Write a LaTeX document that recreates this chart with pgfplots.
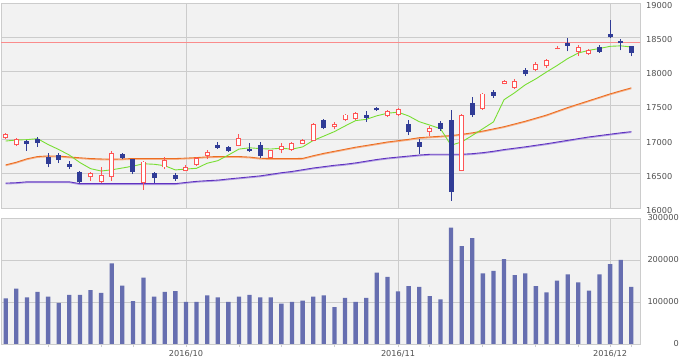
\documentclass[border=0pt]{standalone}
\usepackage{pgfplots}
\pgfplotsset{compat=1.18}
\usepackage{pgfplotstable}
\usepackage{fontspec}
\setmainfont{DejaVu Sans}
\definecolor{bgc}{RGB}{242,242,242}
\definecolor{gridc}{RGB}{204,204,204}
\definecolor{labc}{RGB}{80,80,80}
\definecolor{cred}{RGB}{255,85,85}
\definecolor{cblue}{RGB}{48,60,150}
\definecolor{volc}{RGB}{102,110,176}
\definecolor{ma5}{RGB}{120,222,50}
\definecolor{ma25}{RGB}{236,110,34}
\definecolor{ma25l}{RGB}{246,176,136}
\definecolor{ma75}{RGB}{96,50,192}
\definecolor{ma75l}{RGB}{176,158,226}
\definecolor{refl}{RGB}{250,140,140}

\pgfplotstableread{
x o h l c
1 17020 17100 17010 17078
2 16917 17030 16905 17015
9 16447 16529 16398 16510
10 16374 16593 16360 16485
11 16456 16835 16398 16801
14 16360 16689 16266 16680
16 16593 16747 16568 16699
18 16543 16630 16540 16593
19 16631 16750 16620 16738
20 16762 16850 16714 16820
23 16907 17080 16900 17029
26 16728 16855 16725 16850
27 16845 16957 16801 16907
28 16850 16970 16840 16957
29 16942 17005 16935 16995
30 16980 17240 16975 17233
32 17180 17260 17150 17235
33 17285 17380 17270 17368
34 17306 17400 17290 17391
37 17345 17440 17330 17425
38 17360 17467 17344 17442
41 17115 17199 17053 17177
44 16543 17370 16540 17354
46 17452 17690 17440 17675
48 17816 17880 17810 17864
49 17758 17890 17745 17864
51 18024 18130 18000 18107
52 18072 18185 18050 18160
53 18326 18378 18322 18340
55 18282 18388 18228 18356
56 18253 18330 18245 18316
}\redc

\pgfplotstableread{
x o h l c
3 16986 16995 16835 16936
4 17005 17044 16899 16957
5 16747 16801 16593 16650
6 16772 16801 16655 16700
7 16645 16689 16568 16601
8 16520 16543 16360 16383
12 16786 16808 16716 16735
13 16714 16724 16495 16530
15 16510 16520 16364 16437
17 16485 16505 16400 16422
21 16922 16971 16865 16875
22 16893 16905 16820 16830
24 16859 16947 16820 16830
25 16922 16971 16738 16760
31 17286 17306 17151 17170
35 17359 17417 17263 17320
36 17467 17480 17420 17430
39 17233 17286 17063 17110
40 16966 17005 16786 16895
42 17248 17270 17130 17160
43 17286 17432 16106 16240
45 17539 17627 17330 17360
47 17694 17733 17612 17640
50 18024 18043 17937 17955
54 18413 18486 18291 18375
57 18355 18380 18270 18290
58 18549 18752 18486 18500
59 18447 18476 18306 18410
60 18364 18374 18220 18270
}\bluec

\pgfplotstableread{
x g o p
1 16980 16631 16364
2 16995 16670 16370
3 17000 16720 16383
4 17015 16753 16383
5 16929 16762 16383
6 16856 16760 16383
7 16775 16747 16383
8 16665 16735 16356
9 16576 16724 16356
10 16541 16718 16356
11 16559 16714 16356
12 16585 16718 16356
13 16613 16724 16356
14 16647 16724 16356
15 16640 16724 16356
16 16619 16724 16356
17 16557 16724 16356
18 16570 16730 16374
19 16581 16738 16390
20 16655 16748 16400
21 16692 16753 16408
22 16775 16753 16425
23 16862 16753 16440
24 16881 16745 16455
25 16869 16728 16470
26 16863 16724 16493
27 16875 16724 16516
28 16861 16724 16535
29 16894 16726 16560
30 16988 16765 16585
31 17052 16800 16605
32 17118 16830 16625
33 17200 16860 16640
34 17279 16890 16660
35 17297 16915 16685
36 17349 16940 16710
37 17387 16966 16730
38 17402 16985 16745
39 17347 17005 16760
40 17263 17029 16775
41 17213 17040 16786
42 17160 17050 16786
43 16919 17060 16786
44 16966 17078 16786
45 17061 17100 16795
46 17160 17126 16810
47 17260 17158 16830
48 17585 17190 16855
49 17687 17230 16875
50 17803 17270 16895
51 17890 17315 16918
52 17990 17360 16940
53 18085 17415 16965
54 18187 17470 16990
55 18268 17520 17015
56 18308 17570 17040
57 18334 17620 17060
58 18366 17670 17080
59 18373 17715 17100
60 18356 17758 17117
}\matab

\pgfplotstableread{
x v
1 108700
2 132000
3 111000
4 124000
5 113000
6 98000
7 117000
8 117000
9 128000
10 122000
11 192000
12 139000
13 102000
14 158000
15 113000
16 124000
17 126000
18 100000
19 100000
20 116000
21 111000
22 100000
23 113000
24 117000
25 111000
26 111000
27 96000
28 100000
29 103000
30 113000
31 116000
32 88000
33 110000
34 100000
35 110000
36 170000
37 160000
38 125000
39 138000
40 136000
41 114000
42 106000
43 277000
44 233000
45 252000
46 168000
47 174000
48 202000
49 164000
50 168000
51 138000
52 123000
53 151000
54 166000
55 147000
56 127000
57 166000
58 190000
59 200000
60 136000
}\voltab

\pgfplotsset{
  panel/.style={
    scale only axis, width=639bp,
    xmin=0.557, xmax=60.82,
    axis background/.style={fill=bgc},
    axis line style={draw=gridc, line width=0.8bp},
    grid style={draw=gridc, line width=0.8bp},
    xmajorgrids, ymajorgrids,
    ytick style={draw=none},
    yticklabel pos=right,
    ticklabel style={font=\fontsize{8.2bp}{9.5bp}\selectfont, text=labc},
    /pgf/number format/assume math mode=true,
  },
}

\begin{document}
\begin{tikzpicture}
\useasboundingbox (0,0) rectangle (680bp,360bp);
% price panel
\begin{axis}[panel, at={(1bp,152bp)}, anchor=south west, height=205bp,
  ymin=16000, ymax=19000,
  ytick={16000,16500,17000,17500,18000,18500,19000},
  yticklabels={16000,16500,17000,17500,18000,18500,19000},
  yticklabel style={anchor=west, inner sep=0pt, xshift=6bp, yshift=-2.4bp},
  xtick={18,38,58}, xticklabels={}, major tick length=0pt,
]
\addplot[refl, line width=1.2bp, forget plot] coordinates {(0,18426) (62,18426)};
\addplot[ma75l, line width=1.1bp, yshift=-0.8bp, forget plot] table[x=x,y=p] \matab;
\addplot[ma75, line width=0.9bp, forget plot] table[x=x,y=p] \matab;
\addplot[ma25l, line width=1.1bp, yshift=-0.8bp, forget plot] table[x=x,y=o] \matab;
\addplot[ma25, line width=0.9bp, forget plot] table[x=x,y=o] \matab;
\addplot[ma5, line width=0.9bp, forget plot] table[x=x,y=g] \matab;
% wicks
\addplot[draw=none, mark=none, forget plot, error bars/.cd, y dir=plus, y explicit, error mark=none,
  error bar style={line width=1bp, draw=cblue}]
  table[x=x, y=l, y error plus expr=\thisrow{h}-\thisrow{l}] \bluec;
\addplot[draw=none, mark=none, forget plot, error bars/.cd, y dir=plus, y explicit, error mark=none,
  error bar style={line width=1bp, draw=cred}]
  table[x=x, y=l, y error plus expr=\thisrow{h}-\thisrow{l}] \redc;
% bodies
\addplot[draw=none, mark=none, forget plot, error bars/.cd, y dir=plus, y explicit, error mark=none,
  error bar style={line width=5bp, draw=cblue}]
  table[x=x, y=c, y error plus expr={max(\thisrow{o}-\thisrow{c},8)}] \bluec;
\addplot[draw=none, mark=none, forget plot, error bars/.cd, y dir=plus, y explicit, error mark=none,
  error bar style={line width=5bp, draw=cred}]
  table[x=x, y=o, y error plus expr={max(\thisrow{c}-\thisrow{o},8)}] \redc;
\addplot[draw=none, mark=none, forget plot, error bars/.cd, y dir=plus, y explicit, error mark=none,
  error bar style={line width=3bp, draw=white}]
  table[x=x, y expr=\thisrow{o}+14, y error plus expr={max(\thisrow{c}-\thisrow{o}-28,0)}] \redc;
\end{axis}
% volume panel
\begin{axis}[panel, at={(1bp,16bp)}, anchor=south west, height=126bp,
  ymin=0, ymax=300000,
  ytick={0,100000,200000,300000},
  yticklabels={0,100000,200000,300000},
  yticklabel style={anchor=east, inner sep=0pt, xshift=36bp},
  scaled y ticks=false,
  xtick={18,38,58}, xticklabels={2016/10,2016/11,2016/12},
  minor xtick={5,10,13,23,27,32,41,46,51,55,60},
  xtick pos=lower, tick align=outside,
  major tick length=3bp, minor tick length=3bp,
  xtick style={draw=gridc, line width=0.8bp},
  minor x tick style={draw=gridc, line width=0.8bp},
  xticklabel style={inner sep=0pt, yshift=-3.5bp},
]
\addplot[ybar, bar width=4.3bp, fill=volc, draw=none, forget plot] table[x=x,y=v] \voltab;
\end{axis}
\end{tikzpicture}
\end{document}
